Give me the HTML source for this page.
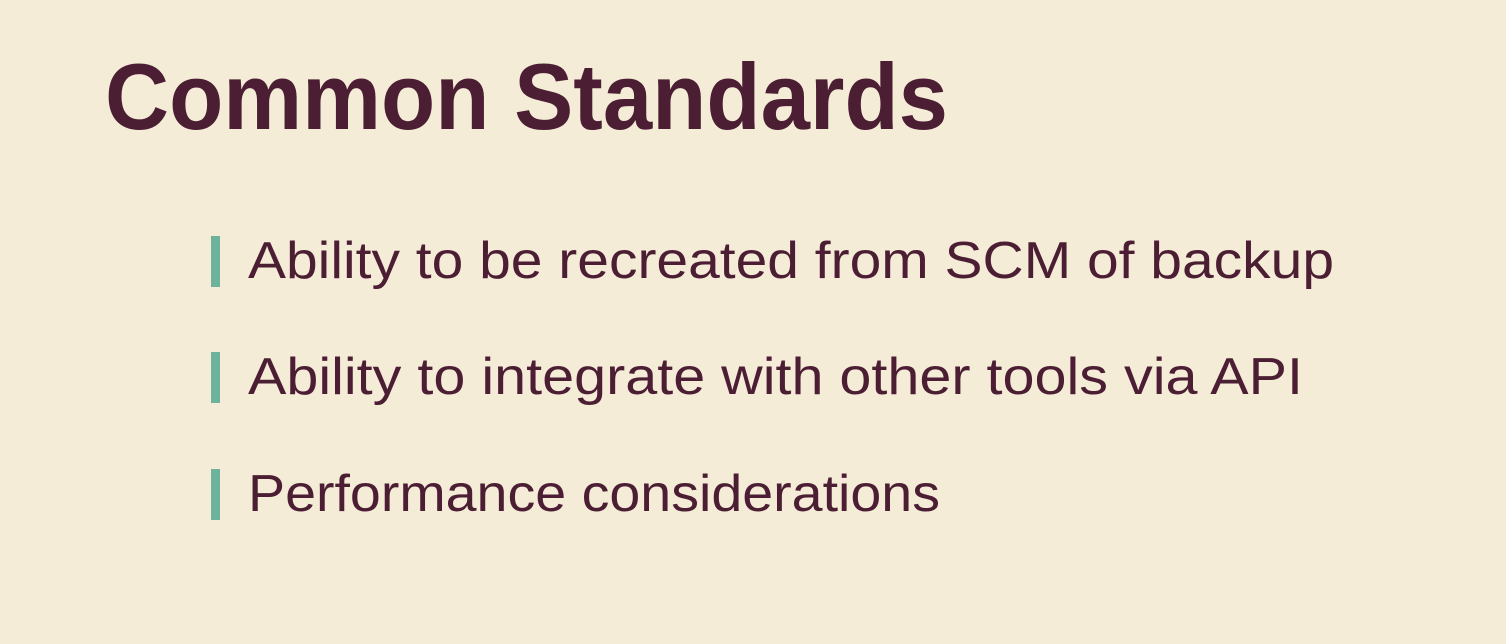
<!DOCTYPE html>
<html><head><meta charset="utf-8"><style>
html,body{margin:0;padding:0;background:#f5ecd8;}
svg{display:block}
</style></head><body>
<svg width="1506" height="644" viewBox="0 0 1506 644" xmlns="http://www.w3.org/2000/svg">
<rect width="1506" height="644" fill="#f5ecd8"/>
<text x="105" y="129" font-family="Liberation Sans, sans-serif" font-weight="bold" font-size="94" fill="#4b1e33" textLength="843" lengthAdjust="spacingAndGlyphs">Common Standards</text>
<g>
<rect x="211" y="236" width="9" height="51" fill="#6db39b"/>
<text x="248" y="278" font-family="Liberation Sans, sans-serif" font-size="52" fill="#4b1e33" textLength="1086" lengthAdjust="spacingAndGlyphs">Ability to be recreated from SCM of backup</text>
</g>
<g>
<rect x="211" y="352" width="9" height="51" fill="#6db39b"/>
<text x="248" y="394" font-family="Liberation Sans, sans-serif" font-size="52" fill="#4b1e33" textLength="1055" lengthAdjust="spacingAndGlyphs">Ability to integrate with other tools via API</text>
</g>
<g>
<rect x="211" y="469" width="9" height="51" fill="#6db39b"/>
<text x="248" y="511" font-family="Liberation Sans, sans-serif" font-size="52" fill="#4b1e33" textLength="692" lengthAdjust="spacingAndGlyphs">Performance considerations</text>
</g>
</svg>
</body></html>
